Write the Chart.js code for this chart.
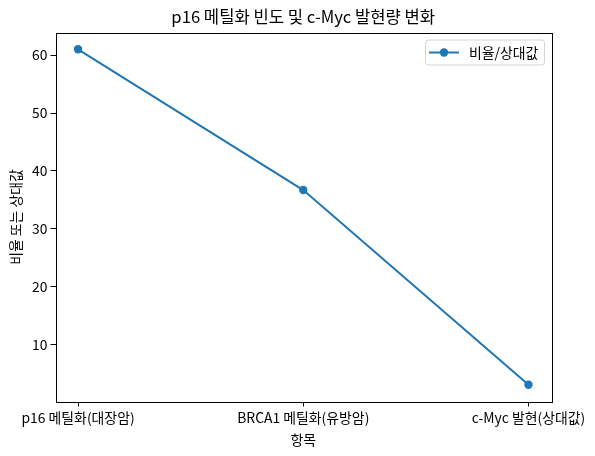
<!DOCTYPE html>
<html>
<head>
<meta charset="utf-8">
<script src="https://cdn.jsdelivr.net/npm/chart.js@4"></script>
<style>
  html, body { margin: 0; padding: 0; background: #fff; }
  #wrap { width: 595px; height: 456px; }
</style>
</head>
<body>
<div id="wrap"><canvas id="grafico"></canvas></div>
<script>
// dados
const categorias = ['p16 메틸화(대장암)', 'BRCA1 메틸화(유방암)', 'c-Myc 발현(상대값)'];
const valores = [61.0, 36.7, 3.1];
const ticksY = [10, 20, 30, 40, 50, 60];
const serieNome = '비율/상대값';
const titulo = 'p16 메틸화 빈도 및 c-Myc 발현량 변화';

const fonte = "'Noto Sans CJK KR', 'Noto Sans', sans-serif";
const azul = '#1f77b4';
const tam = 13.9; // 10pt em 100dpi

// título centrado sobre a área do gráfico, moldura e legenda estilo matplotlib
const moldura = {
    id: 'moldura',
    afterDraw(chart) {
        const { ctx, chartArea: a } = chart;
        ctx.save();

        // título: ajusta o tamanho para ~264px de largura
        ctx.font = '16.7px ' + fonte;
        const wt = ctx.measureText(titulo).width;
        const tt = 16.7 * 264 / wt;
        ctx.font = tt + 'px ' + fonte;
        ctx.fillStyle = '#000';
        ctx.textAlign = 'center';
        ctx.textBaseline = 'alphabetic';
        ctx.fillText(titulo, (a.left + a.right) / 2, a.top - 9.5);
        ctx.textAlign = 'left';

        ctx.strokeStyle = '#000';
        ctx.lineWidth = 1;
        ctx.strokeRect(Math.round(a.left) + 0.5, Math.round(a.top) + 0.5,
            Math.round(a.right - a.left), Math.round(a.bottom - a.top));

        // legenda
        const w = 119, h = 25;
        const x = a.right - 7 - w, y = a.top + 7;
        ctx.beginPath();
        ctx.roundRect(x + 0.5, y + 0.5, w, h, 3);
        ctx.fillStyle = 'rgba(255,255,255,0.8)';
        ctx.fill();
        ctx.strokeStyle = '#d6d6d6';
        ctx.stroke();
        const cy = y + h / 2 + 0.5;
        ctx.strokeStyle = azul;
        ctx.lineWidth = 2;
        ctx.beginPath();
        ctx.moveTo(x + 4, cy);
        ctx.lineTo(x + 34, cy);
        ctx.stroke();
        ctx.fillStyle = azul;
        ctx.beginPath();
        ctx.arc(x + 19, cy, 4.2, 0, Math.PI * 2);
        ctx.fill();
        ctx.fillStyle = '#000';
        ctx.font = tam + 'px ' + fonte;
        ctx.textBaseline = 'middle';
        ctx.fillText(chart.data.datasets[0].label, x + 44, cy);
        ctx.restore();
    }
};

document.addEventListener('DOMContentLoaded', () => {
    const ctx = document.getElementById('grafico').getContext('2d');
    new Chart(ctx, {
        type: 'line',
        data: {
            datasets: [{
                label: serieNome,
                data: valores.map((v, i) => ({ x: i, y: v })),
                borderColor: azul,
                backgroundColor: azul,
                borderWidth: 2,
                pointRadius: 4.2,
                pointHoverRadius: 4.2,
                pointBorderWidth: 0,
                tension: 0
            }]
        },
        options: {
            responsive: true,
            maintainAspectRatio: false,
            animation: false,
            layout: { padding: { left: 0, right: 44, top: 32.5, bottom: 0 } },
            plugins: {
                legend: { display: false },
                tooltip: { enabled: false },
                title: { display: false }
            },
            scales: {
                x: {
                    type: 'linear',
                    min: -0.1,
                    max: 2.1,
                    afterBuildTicks: (s) => { s.ticks = categorias.map((c, i) => ({ value: i })); },
                    afterFit: (s) => { s.height = 54.5; },
                    grid: { drawOnChartArea: false, tickLength: 5, color: '#000' },
                    border: { display: false },
                    ticks: {
                        color: '#000',
                        font: { family: fonte, size: tam },
                        padding: 3,
                        maxRotation: 0,
                        callback: (v) => categorias[v]
                    },
                    title: {
                        display: true,
                        text: '항목',
                        color: '#000',
                        font: { family: fonte, size: tam },
                        padding: { top: 0, bottom: 8 }
                    }
                },
                y: {
                    min: 0.2,
                    max: 63.9,
                    afterBuildTicks: (s) => { s.ticks = ticksY.map(v => ({ value: v })); },
                    afterFit: (s) => { s.width = 55.5; },
                    grid: { drawOnChartArea: false, tickLength: 5, color: '#000' },
                    border: { display: false },
                    ticks: {
                        color: '#000',
                        font: { family: fonte, size: tam },
                        padding: 3
                    },
                    title: {
                        display: true,
                        text: '비율 또는 상대값',
                        color: '#000',
                        font: { family: fonte, size: tam },
                        padding: { top: 7, bottom: 2 }
                    }
                }
            }
        },
        plugins: [moldura]
    });
});
</script>
</body>
</html>
